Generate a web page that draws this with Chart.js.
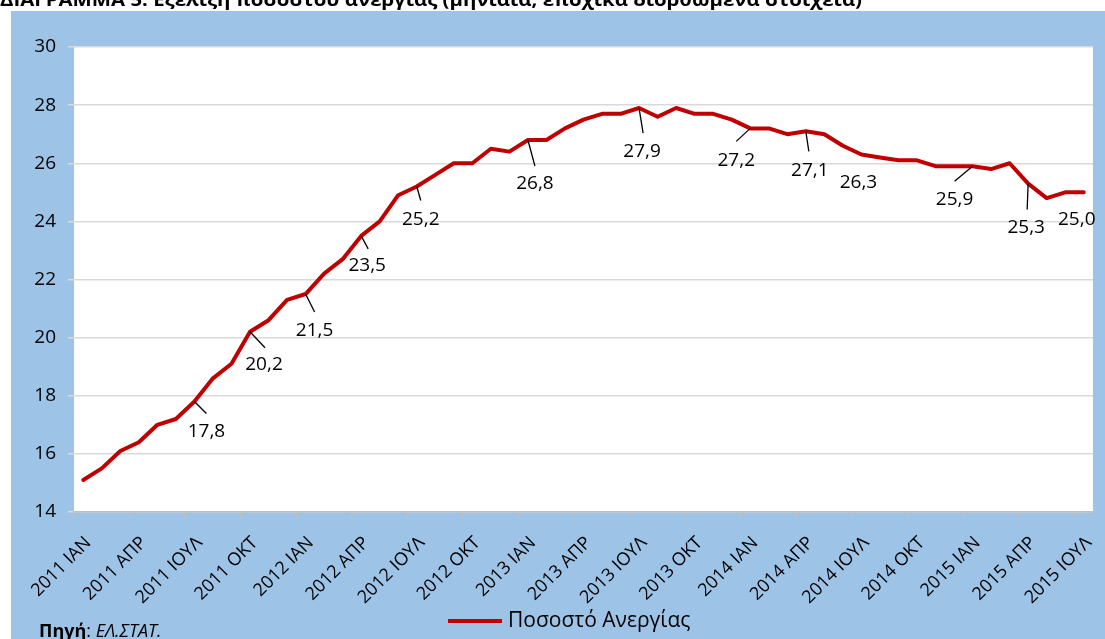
<!DOCTYPE html>
<html>
<head>
<meta charset="utf-8">
<script src="https://cdn.jsdelivr.net/npm/chart.js@4/dist/chart.umd.min.js"></script>
<style>
  body { margin: 0; background: #ffffff; }
  #chart { display: block; }
</style>
</head>
<body>
<canvas id="chart" width="1105" height="639"></canvas>
<script>
const titleText = 'ΔΙΑΓΡΑΜΜΑ 5: Εξέλιξη ποσοστού ανεργίας (μηνιαία, εποχικά διορθωμένα στοιχεία)';
const seriesName = 'Ποσοστό Ανεργίας';

const years = ['2011', '2012', '2013', '2014', '2015'];
const monthNames = ['ΙΑΝ', 'ΦΕΒ', 'ΜΑΡ', 'ΑΠΡ', 'ΜΑΪ', 'ΙΟΥΝ', 'ΙΟΥΛ', 'ΑΥΓ', 'ΣΕΠ', 'ΟΚΤ', 'ΝΟΕ', 'ΔΕΚ'];

// monthly unemployment rate, Jan 2011 - Jul 2015
const rate2011 = [15.1, 15.5, 16.1, 16.4, 17.0, 17.2, 17.8, 18.6, 19.1, 20.2, 20.6, 21.3];
const rate2012 = [21.5, 22.2, 22.7, 23.5, 24.0, 24.9, 25.2, 25.6, 26.0, 26.0, 26.5, 26.4];
const rate2013 = [26.8, 26.8, 27.2, 27.5, 27.7, 27.7, 27.9, 27.6, 27.9, 27.7, 27.7, 27.5];
const rate2014 = [27.2, 27.2, 27.0, 27.1, 27.0, 26.6, 26.3, 26.2, 26.1, 26.1, 25.9, 25.9];
const rate2015 = [25.9, 25.8, 26.0, 25.3, 24.8, 25.0, 25.0];

const yTicks = [14, 16, 18, 20, 22, 24, 26, 28, 30];

// points that carry a value label
const labelledIdx = [6, 9, 12, 15, 18, 24, 30, 36, 39, 42, 48, 51, 54];

const rates = [].concat(rate2011, rate2012, rate2013, rate2014, rate2015);
const categories = [];
years.forEach(y => monthNames.forEach(m => categories.push(y + ' ' + m)));
categories.length = rates.length;

// label placement: [text dx, text dy, leader dx, leader dy] (leader 0,0 = none)
const labelPlace = {
  6: [12, 30, 12, 12],
  9: [14, 33, 15, 16],
  12: [9, 37, 9, 18],
  15: [6, 30, 7, 13],
  18: [4, 33, 4, 14],
  24: [7, 44, 7, 26],
  30: [3, 44, 4, 25],
  36: [-14, 32, -14, 13],
  39: [4, 39, 3, 20],
  42: [-3, 28, 0, 0],
  48: [-18, 33, -18, 15],
  51: [-2, 44, -1, 26],
  54: [-7, 27, 0, 0]
};

const FONT = '"Open Sans", "Noto Sans", sans-serif';
const BLUE = '#9dc3e6';
const RED = '#c00000';

const backdrop = {
  id: 'backdrop',
  beforeDraw(chart) {
    const { ctx, chartArea: a } = chart;
    ctx.save();
    ctx.fillStyle = '#ffffff';
    ctx.fillRect(0, 0, chart.width, chart.height);
    ctx.fillStyle = BLUE;
    ctx.fillRect(11, 11, chart.width - 11, chart.height - 11);
    ctx.fillStyle = '#ffffff';
    ctx.fillRect(a.left, a.top, a.right - a.left, a.bottom - a.top);
    ctx.restore();
  },
  afterDraw(chart) {
    const ctx = chart.ctx;
    const xs = chart.scales.x;

    // rotated category labels, every third month
    ctx.save();
    ctx.fillStyle = '#000000';
    ctx.font = '18px ' + FONT;
    ctx.textAlign = 'right';
    ctx.textBaseline = 'middle';
    categories.forEach((c, i) => {
      if (i % 3 !== 0) return;
      ctx.save();
      ctx.translate(xs.getPixelForValue(i) + 5, xs.top + 28);
      ctx.rotate(-Math.PI / 4);
      ctx.fillText(c, 0, 0);
      ctx.restore();
    });
    ctx.restore();

    // clipped title
    ctx.save();
    ctx.fillStyle = '#000000';
    ctx.font = 'bold 18px ' + FONT;
    ctx.textBaseline = 'alphabetic';
    const w = ctx.measureText(titleText).width;
    ctx.translate(0, 6);
    ctx.scale(862 / w, 1);
    ctx.fillText(titleText, 0, 0);
    ctx.restore();

    // legend
    ctx.save();
    ctx.strokeStyle = RED;
    ctx.lineWidth = 4;
    ctx.beginPath();
    ctx.moveTo(448, 621);
    ctx.lineTo(502, 621);
    ctx.stroke();
    ctx.fillStyle = '#000000';
    ctx.font = '21px ' + FONT;
    ctx.textBaseline = 'middle';
    ctx.fillText(seriesName, 508, 621);

    // source
    ctx.textBaseline = 'alphabetic';
    ctx.font = 'bold 18px ' + FONT;
    ctx.fillText('Πηγή', 39, 637);
    let x = 39 + ctx.measureText('Πηγή').width;
    ctx.font = '18px ' + FONT;
    ctx.fillText(': ', x, 637);
    x += ctx.measureText(': ').width;
    ctx.font = 'italic 18px ' + FONT;
    ctx.fillText('ΕΛ.ΣΤΑΤ.', x, 637);
    ctx.restore();
  }
};

const valueLabels = {
  id: 'valueLabels',
  afterDatasetsDraw(chart) {
    const ctx = chart.ctx;
    const meta = chart.getDatasetMeta(0);
    ctx.save();
    ctx.font = '19px ' + FONT;
    ctx.fillStyle = '#000000';
    ctx.strokeStyle = '#000000';
    ctx.lineWidth = 1.3;
    ctx.textAlign = 'center';
    ctx.textBaseline = 'middle';
    labelledIdx.forEach(i => {
      const p = meta.data[i];
      const [tx, ty, lx, ly] = labelPlace[i];
      if (lx || ly) {
        ctx.beginPath();
        ctx.moveTo(p.x, p.y);
        ctx.lineTo(p.x + lx, p.y + ly);
        ctx.stroke();
      }
      ctx.fillText(rates[i].toFixed(1).replace('.', ','), p.x + tx, p.y + ty);
    });
    ctx.restore();
  }
};

new Chart(document.getElementById('chart'), {
  type: 'line',
  data: {
    labels: categories,
    datasets: [{
      label: seriesName,
      data: rates,
      borderColor: RED,
      borderWidth: 4,
      borderJoinStyle: 'round',
      borderCapStyle: 'round',
      pointRadius: 0,
      tension: 0,
      fill: false
    }]
  },
  options: {
    responsive: false,
    animation: false,
    layout: { padding: { top: 47, right: 12, left: 0, bottom: 0 } },
    plugins: {
      legend: { display: false },
      tooltip: { enabled: false }
    },
    scales: {
      x: {
        type: 'category',
        offset: true,
        afterFit(scale) { scale.height = 127; },
        border: { color: '#bfbfbf', width: 1.5 },
        grid: {
          offset: true,
          drawOnChartArea: false,
          tickLength: 6,
          lineWidth: 1.5,
          color: c => (c.index % 3 === 0 ? '#bfbfbf' : 'rgba(0,0,0,0)')
        },
        ticks: { display: false, autoSkip: false }
      },
      y: {
        min: yTicks[0],
        max: yTicks[yTicks.length - 1],
        afterFit(scale) { scale.width = 74; },
        afterBuildTicks(scale) { scale.ticks = yTicks.map(v => ({ value: v })); },
        border: { display: false },
        grid: { color: '#d9d9d9', lineWidth: 1.5, tickLength: 6 },
        ticks: {
          padding: 12,
          color: '#000000',
          font: { family: FONT, size: 19 }
        }
      }
    }
  },
  plugins: [backdrop, valueLabels]
});
</script>
</body>
</html>
